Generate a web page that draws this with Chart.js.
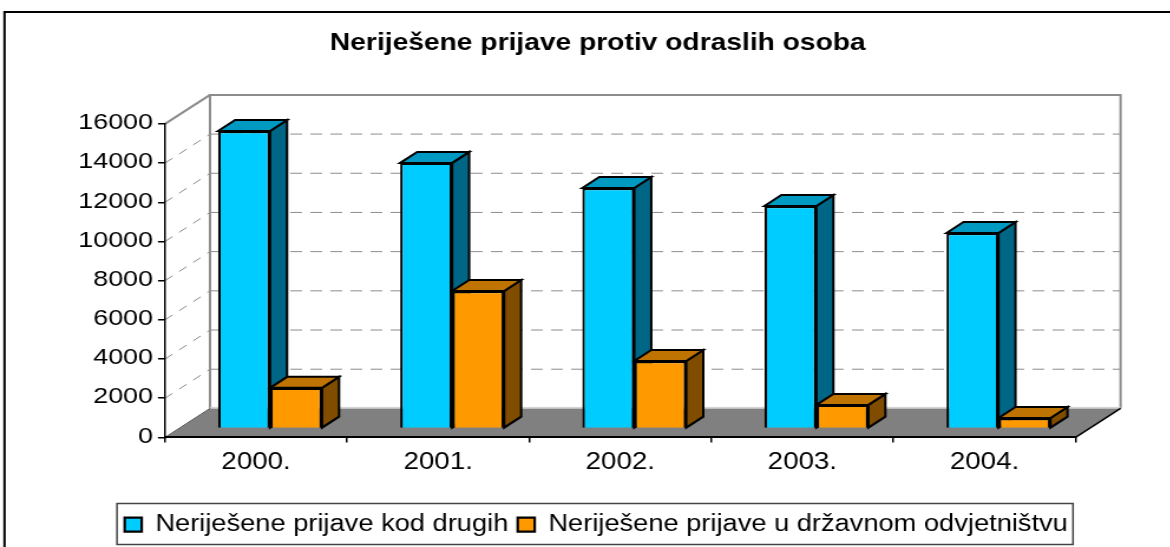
<!DOCTYPE html>
<html>
<head>
<meta charset="utf-8">
<style>
html,body{margin:0;padding:0;background:#fff;overflow:hidden;width:1170px;height:547px}
#wrap{position:absolute;left:0;top:0;transform-origin:0 0;transform:scaleX(1.18)}
canvas{display:block}
</style>
<script src="https://cdn.jsdelivr.net/npm/chart.js@4"></script>
</head>
<body>
<div id="wrap"><canvas id="c" width="992" height="547"></canvas></div>
<script>
const categories = ['2000.', '2001.', '2002.', '2003.', '2004.'];
const drugih = [15180, 13550, 12270, 11350, 9970];
const dorh = [2070, 7010, 3440, 1200, 530];
const seriesNames = ['Neriješene prijave kod drugih', 'Neriješene prijave u državnom odvjetništvu'];
const titleText = 'Neriješene prijave protiv odraslih osoba';
const yMax = 16000, yStep = 2000;

const SX = 1.18;            // the reference is stretched horizontally
const px = v => v / SX;
const wall = {dx: px(45), dy: -29};
const plane = {dx: px(14), dy: -9};
const depth = {dx: px(17), dy: -11};
const sideColors = ['#006685', '#804D00'];
const topColors = ['#0099C2', '#BF7300'];

function poly(ctx, pts, fill, stroke, lw) {
  ctx.beginPath();
  pts.forEach((p, i) => i ? ctx.lineTo(p[0], p[1]) : ctx.moveTo(p[0], p[1]));
  ctx.closePath();
  if (fill) { ctx.fillStyle = fill; ctx.fill(); }
  if (stroke) { ctx.strokeStyle = stroke; ctx.lineWidth = lw; ctx.stroke(); }
}

function draw3d(chart, index) {
  const {ctx} = chart;
  ctx.save();
  ctx.lineJoin = 'miter';
  chart.getDatasetMeta(index).data.forEach(bar => {
    const w = bar.width / 2;
    const l = bar.x - w + plane.dx, r = bar.x + w + plane.dx;
    const yt = bar.y + plane.dy, yb = bar.base + plane.dy;
    poly(ctx, [[r, yt], [r + depth.dx, yt + depth.dy], [r + depth.dx, yb + depth.dy], [r, yb]], sideColors[index], '#000', 2);
    poly(ctx, [[l, yt], [l + depth.dx, yt + depth.dy], [r + depth.dx, yt + depth.dy], [r, yt]], topColors[index], '#000', 2);
  });
  ctx.restore();
}

const scene = {
  id: 'scene',
  afterLayout(chart) {
    const d = px(58.5);
    chart.legend.left += d; chart.legend.right += d;
    const t = px(60);
    chart.titleBlock.left += t; chart.titleBlock.right += t;
  },
  beforeDraw(chart) {
    const {ctx, chartArea: a, scales: {y}} = chart;
    ctx.save();
    // outer frame
    ctx.strokeStyle = '#000'; ctx.lineWidth = 2;
    ctx.beginPath();
    ctx.moveTo(px(4.5), 560); ctx.lineTo(px(4.5), 12); ctx.lineTo(px(1180), 12);
    ctx.stroke();
    const x0 = a.left, x1 = a.left + wall.dx, x2 = a.right + wall.dx;
    const b = a.bottom, t = a.top;
    // floor
    poly(ctx, [[x0, b], [x1, b + wall.dy], [x2, b + wall.dy], [a.right, b]], '#808080');
    // gridlines
    ctx.strokeStyle = '#8c8c8c'; ctx.lineWidth = 1;
    for (let v = yStep; v < yMax; v += yStep) {
      const p = y.getPixelForValue(v);
      ctx.setLineDash([8, 7]);
      ctx.beginPath(); ctx.moveTo(x0, p); ctx.lineTo(x1, p + wall.dy); ctx.stroke();
      ctx.setLineDash([10, 7]);
      ctx.beginPath(); ctx.moveTo(x1, p + wall.dy); ctx.lineTo(x2, p + wall.dy); ctx.stroke();
    }
    ctx.setLineDash([]);
    // back wall edges
    ctx.strokeStyle = '#8c8c8c'; ctx.lineWidth = 2;
    ctx.beginPath();
    ctx.moveTo(x1, b + wall.dy); ctx.lineTo(x1, t + wall.dy); ctx.lineTo(x2, t + wall.dy); ctx.lineTo(x2, b + wall.dy);
    ctx.stroke();
    ctx.beginPath(); ctx.moveTo(x0, t); ctx.lineTo(x1, t + wall.dy); ctx.stroke();
    ctx.strokeStyle = '#d0d0d0'; ctx.lineWidth = 1;
    ctx.beginPath(); ctx.moveTo(x1, b + wall.dy - 1); ctx.lineTo(x2, b + wall.dy - 1); ctx.stroke();
    // floor edges
    ctx.strokeStyle = '#000'; ctx.lineWidth = 1.5;
    ctx.beginPath(); ctx.moveTo(a.right, b); ctx.lineTo(x2, b + wall.dy); ctx.stroke();
    ctx.strokeStyle = '#555'; ctx.lineWidth = 1;
    ctx.beginPath(); ctx.moveTo(x0, b); ctx.lineTo(x1, b + wall.dy); ctx.stroke();
    ctx.restore();
  },
  beforeDatasetsDraw(chart) {
    draw3d(chart, 0);
  },
  beforeDatasetDraw(chart, args) {
    if (args.index === 1) draw3d(chart, 1);
    chart.ctx.save();
    chart.ctx.translate(plane.dx, plane.dy);
  },
  afterDatasetDraw(chart) {
    chart.ctx.restore();
  },
  afterDraw(chart) {
    const {ctx} = chart;
    ctx.save();
    ctx.strokeStyle = '#444'; ctx.lineWidth = 1.5;
    ctx.strokeRect(px(117), 503.5, px(956), 41);
    ctx.restore();
  }
};

new Chart(document.getElementById('c'), {
  type: 'bar',
  plugins: [scene],
  data: {
    labels: categories,
    datasets: [
      {label: seriesNames[0], data: drugih, backgroundColor: '#00CCFF', borderColor: '#000', borderWidth: 2.2},
      {label: seriesNames[1], data: dorh, backgroundColor: '#FF9900', borderColor: '#000', borderWidth: 2.2}
    ]
  },
  options: {
    responsive: false,
    animation: false,
    devicePixelRatio: 1,
    layout: {padding: {left: 0, right: px(95), top: 0, bottom: 0.8}},
    datasets: {bar: {categoryPercentage: 0.571, barPercentage: 1}},
    scales: {
      x: {
        grid: {drawOnChartArea: false, color: '#000', tickLength: 5, lineWidth: 1.5},
        border: {color: '#000', width: 2},
        ticks: {color: '#000', font: {family: '"Liberation Sans"', size: 23.5}, padding: 6, maxRotation: 0},
        afterFit(s) { s.height = 67.7; }
      },
      y: {
        min: 0, max: yMax,
        grid: {drawOnChartArea: false, color: '#000', tickLength: px(7), lineWidth: 1.5},
        border: {color: '#000', width: 1.5},
        ticks: {
          color: '#000', stepSize: yStep, format: {useGrouping: false},
          font: {family: '"Liberation Sans"', size: 22.8}, padding: px(5), labelOffset: -1
        },
        afterFit(s) { s.width = px(165); }
      }
    },
    plugins: {
      title: {
        display: true, text: titleText, color: '#000',
        font: {family: '"Liberation Sans"', size: 23.9, weight: 'bold'},
        padding: {top: 28.6, bottom: 66.6}
      },
      legend: {
        position: 'bottom',
        labels: {
          color: '#000', boxWidth: 14.4, boxHeight: 14, padding: 8,
          font: {family: '"Liberation Sans"', size: 23.1}
        }
      },
      tooltip: {enabled: false}
    }
  }
});
</script>
</body>
</html>
